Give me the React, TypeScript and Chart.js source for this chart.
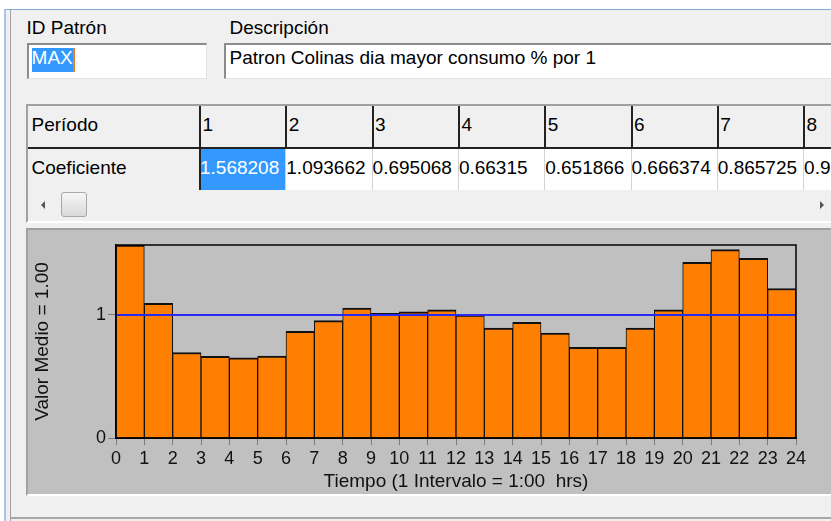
import React, { useEffect, useRef } from "react";
import { Chart, registerables } from "chart.js";

Chart.register(...registerables);

// ---- data ----
const patternId = "MAX";
const description = "Patron Colinas dia mayor consumo % por 1";
const rowHeaderPeriod = "Período";
const rowHeaderCoef = "Coeficiente";
const periodLabels = ["1", "2", "3", "4", "5", "6", "7", "8"];
const coefficients = [
  1.568208, 1.093662, 0.695068, 0.66315, 0.651866, 0.666374, 0.865725, 0.954,
  1.055, 1.014, 1.025, 1.041, 0.998, 0.894, 0.94, 0.853,
  0.737, 0.737, 0.894, 1.041, 1.427, 1.53, 1.46, 1.215,
];
const xTickValues = [0, 1, 2, 3, 4, 5, 6, 7, 8, 9, 10, 11, 12, 13, 14, 15, 16, 17, 18, 19, 20, 21, 22, 23, 24];
const yTickValues = [0, 1];
const meanValue = 1.0;
const xTitle = "Tiempo (1 Intervalo = 1:00  hrs)";
const yTitle = "Valor Medio = 1.00";

const FONT = "'Liberation Sans', Arial, sans-serif";

const T = ({ x, y, children, color = "#000", size = 19 }: any) => (
  <div
    style={{
      position: "absolute",
      left: x,
      top: y,
      fontSize: size,
      lineHeight: `${size}px`,
      whiteSpace: "nowrap",
      color,
    }}
  >
    {children}
  </div>
);

const Box = ({ x, y, w, h, style }: any) => (
  <div style={{ position: "absolute", left: x, top: y, width: w, height: h, boxSizing: "border-box", ...style }} />
);

export default function App() {
  const ref = useRef<HTMLCanvasElement>(null);

  useEffect(() => {
    const canvas = ref.current!;
    const barData = coefficients.map((v, i) => ({ x: xTickValues[i] + 0.5, y: v }));
    const meanLine = [
      { x: xTickValues[0], y: meanValue },
      { x: xTickValues[xTickValues.length - 1], y: meanValue },
    ];
    const yMax = Math.max(...coefficients);

    const frame = {
      id: "frame",
      afterDatasetsDraw(chart: any) {
        const { ctx, chartArea: a } = chart;
        ctx.save();
        ctx.strokeStyle = "#000";
        ctx.lineWidth = 1.5;
        ctx.strokeRect(a.left, a.top, a.right - a.left, a.bottom - a.top);
        ctx.restore();
      },
    };

    const chart = new Chart(canvas, {
      type: "bar",
      data: {
        datasets: [
          {
            type: "line",
            data: meanLine,
            borderColor: "#2a2af0",
            borderWidth: 2,
            pointRadius: 0,
            order: 0,
          } as any,
          {
            type: "bar",
            data: barData,
            backgroundColor: "#ff8000",
            borderColor: "#111",
            borderWidth: { top: 2, left: 1, right: 1, bottom: 0 },
            barPercentage: 1,
            categoryPercentage: 1,
            order: 1,
          } as any,
        ],
      },
      options: {
        animation: false,
        responsive: false,
        devicePixelRatio: 1,
        layout: { padding: { left: 0, right: 35, top: 15, bottom: 0 } },
        plugins: { legend: { display: false }, tooltip: { enabled: false } },
        scales: {
          x: {
            type: "linear",
            min: xTickValues[0],
            max: xTickValues[xTickValues.length - 1],
            offset: false,
            afterBuildTicks(s: any) {
              s.ticks = xTickValues.map((v) => ({ value: v }));
            },
            afterFit(s: any) {
              s.height = 56;
            },
            ticks: {
              autoSkip: false,
              maxRotation: 0,
              padding: 3,
              color: "#111",
              font: { family: FONT, size: 18 },
            },
            grid: {
              display: true,
              drawOnChartArea: false,
              drawTicks: true,
              tickLength: 7,
              color: "#7a7a7a",
              offset: false,
            },
            border: { display: true, color: "#000", width: 2 },
            title: {
              display: true,
              text: xTitle,
              color: "#111",
              font: { family: FONT, size: 19 },
              padding: { top: 0, bottom: 1 },
            },
          },
          y: {
            type: "linear",
            min: 0,
            max: yMax,
            afterBuildTicks(s: any) {
              s.ticks = yTickValues.map((v) => ({ value: v }));
            },
            afterFit(s: any) {
              s.width = 88;
            },
            ticks: {
              padding: 2,
              color: "#111",
              font: { family: FONT, size: 18 },
            },
            grid: {
              display: true,
              drawOnChartArea: false,
              drawTicks: true,
              tickLength: 8,
              color: "#7a7a7a",
            },
            border: { display: true, color: "#000", width: 1.5 },
            title: {
              display: true,
              text: yTitle,
              color: "#111",
              font: { family: FONT, size: 19 },
              padding: { top: 3, bottom: 0 },
            },
          },
        },
      } as any,
      plugins: [frame],
    });
    return () => chart.destroy();
  }, []);

  const colLines = [199, 285.3, 371.6, 457.9, 544.2, 630.5, 716.8, 803.1];

  return (
    <div
      style={{
        position: "fixed",
        left: 0,
        top: 0,
        width: 831,
        height: 521,
        overflow: "hidden",
        background: "#f0f0f0",
        fontFamily: FONT,
        color: "#000",
      }}
    >
      {/* window frame */}
      <Box x={0} y={0} w={831} h={9} style={{ background: "#fff" }} />
      <Box x={0} y={0} w={4} h={521} style={{ background: "#fff" }} />
      <Box x={4} y={9} w={827} h={1} style={{ background: "#86a9d8" }} />
      <Box x={4} y={9} w={2} h={512} style={{ background: "#a9c3e6" }} />
      <Box x={10} y={10} w={1} h={511} style={{ background: "#a0a0a0" }} />
      <Box x={11} y={517} w={820} h={2} style={{ background: "#a8a8a8" }} />

      {/* labels and inputs */}
      <T x={26.5} y={18}>ID Patrón</T>
      <T x={229.5} y={18}>Descripción</T>
      <Box
        x={27}
        y={43}
        w={180}
        h={36}
        style={{
          background: "#fff",
          borderTop: "2px solid #8c8c8c",
          borderLeft: "2px solid #8c8c8c",
          borderBottom: "1px solid #e3e3e3",
          borderRight: "1px solid #e3e3e3",
        }}
      />
      <Box x={32} y={48} w={42} h={24} style={{ background: "#3399ff" }} />
      <Box x={73} y={48} w={1.5} h={24} style={{ background: "#e8802a" }} />
      <T x={31.6} y={47.5} color="#fff">{patternId}</T>
      <Box
        x={224}
        y={43}
        w={640}
        h={36}
        style={{
          background: "#fff",
          borderTop: "2px solid #8c8c8c",
          borderLeft: "2px solid #8c8c8c",
          borderBottom: "1px solid #e3e3e3",
        }}
      />
      <T x={229.5} y={47.5}>{description}</T>

      {/* grid table */}
      <Box
        x={26}
        y={104}
        w={830}
        h={119}
        style={{
          background: "#f0f0f0",
          borderTop: "2px solid #a0a0a0",
          borderLeft: "2px solid #a0a0a0",
          borderBottom: "2px solid #fff",
        }}
      />
      {/* header row */}
      <Box x={28} y={106} w={820} h={41} style={{ background: "#f0f0f0" }} />
      {/* data row */}
      <Box x={201} y={149} w={640} h={41} style={{ background: "#fff" }} />
      <Box x={28} y={147} w={820} h={2} style={{ background: "#222" }} />
      {colLines.map((x, i) => (
        <Box key={"h" + i} x={x} y={106} w={2} h={43} style={{ background: "#222" }} />
      ))}
      <Box x={199} y={149} w={2} h={41} style={{ background: "#222" }} />
      {colLines.slice(1).map((x, i) => (
        <Box key={"d" + i} x={x} y={149} w={1} h={41} style={{ background: "#d2d2d2" }} />
      ))}
      <Box x={201} y={149} w={84.3} h={41} style={{ background: "#3399ff" }} />
      <T x={31.5} y={115}>{rowHeaderPeriod}</T>
      <T x={31.5} y={157.5}>{rowHeaderCoef}</T>
      {periodLabels.map((p, i) => (
        <T key={"p" + i} x={colLines[i] + 3.5} y={115}>
          {p}
        </T>
      ))}
      {periodLabels.map((p, i) => (
        <T key={"c" + i} x={colLines[i] + (i === 0 ? 1 : 1)} y={157.5} color={i === 0 ? "#fff" : "#000"}>
          {String(coefficients[i])}
        </T>
      ))}
      {/* scrollbar */}
      <Box x={28} y={190} w={820} h={30} style={{ background: "#f0f0f0" }} />
      <div
        style={{
          position: "absolute",
          left: 41,
          top: 201,
          width: 0,
          height: 0,
          borderTop: "4px solid transparent",
          borderBottom: "4px solid transparent",
          borderRight: "4px solid #555",
        }}
      />
      <Box
        x={61}
        y={192}
        w={26}
        h={25}
        style={{
          border: "1px solid #a8a8a8",
          borderRadius: 3,
          background: "linear-gradient(#f6f6f6, #d9d9d9)",
        }}
      />
      <div
        style={{
          position: "absolute",
          left: 820,
          top: 201,
          width: 0,
          height: 0,
          borderTop: "4px solid transparent",
          borderBottom: "4px solid transparent",
          borderLeft: "4px solid #555",
        }}
      />

      {/* chart panel */}
      <Box
        x={26}
        y={228}
        w={830}
        h={268}
        style={{
          background: "#c0c0c0",
          borderTop: "2px solid #a0a0a0",
          borderLeft: "2px solid #a0a0a0",
          borderBottom: "2px solid #fff",
        }}
      />
      <canvas
        ref={ref}
        width={803}
        height={264}
        style={{ position: "absolute", left: 28, top: 230, width: 803, height: 264 }}
      />
    </div>
  );
}
